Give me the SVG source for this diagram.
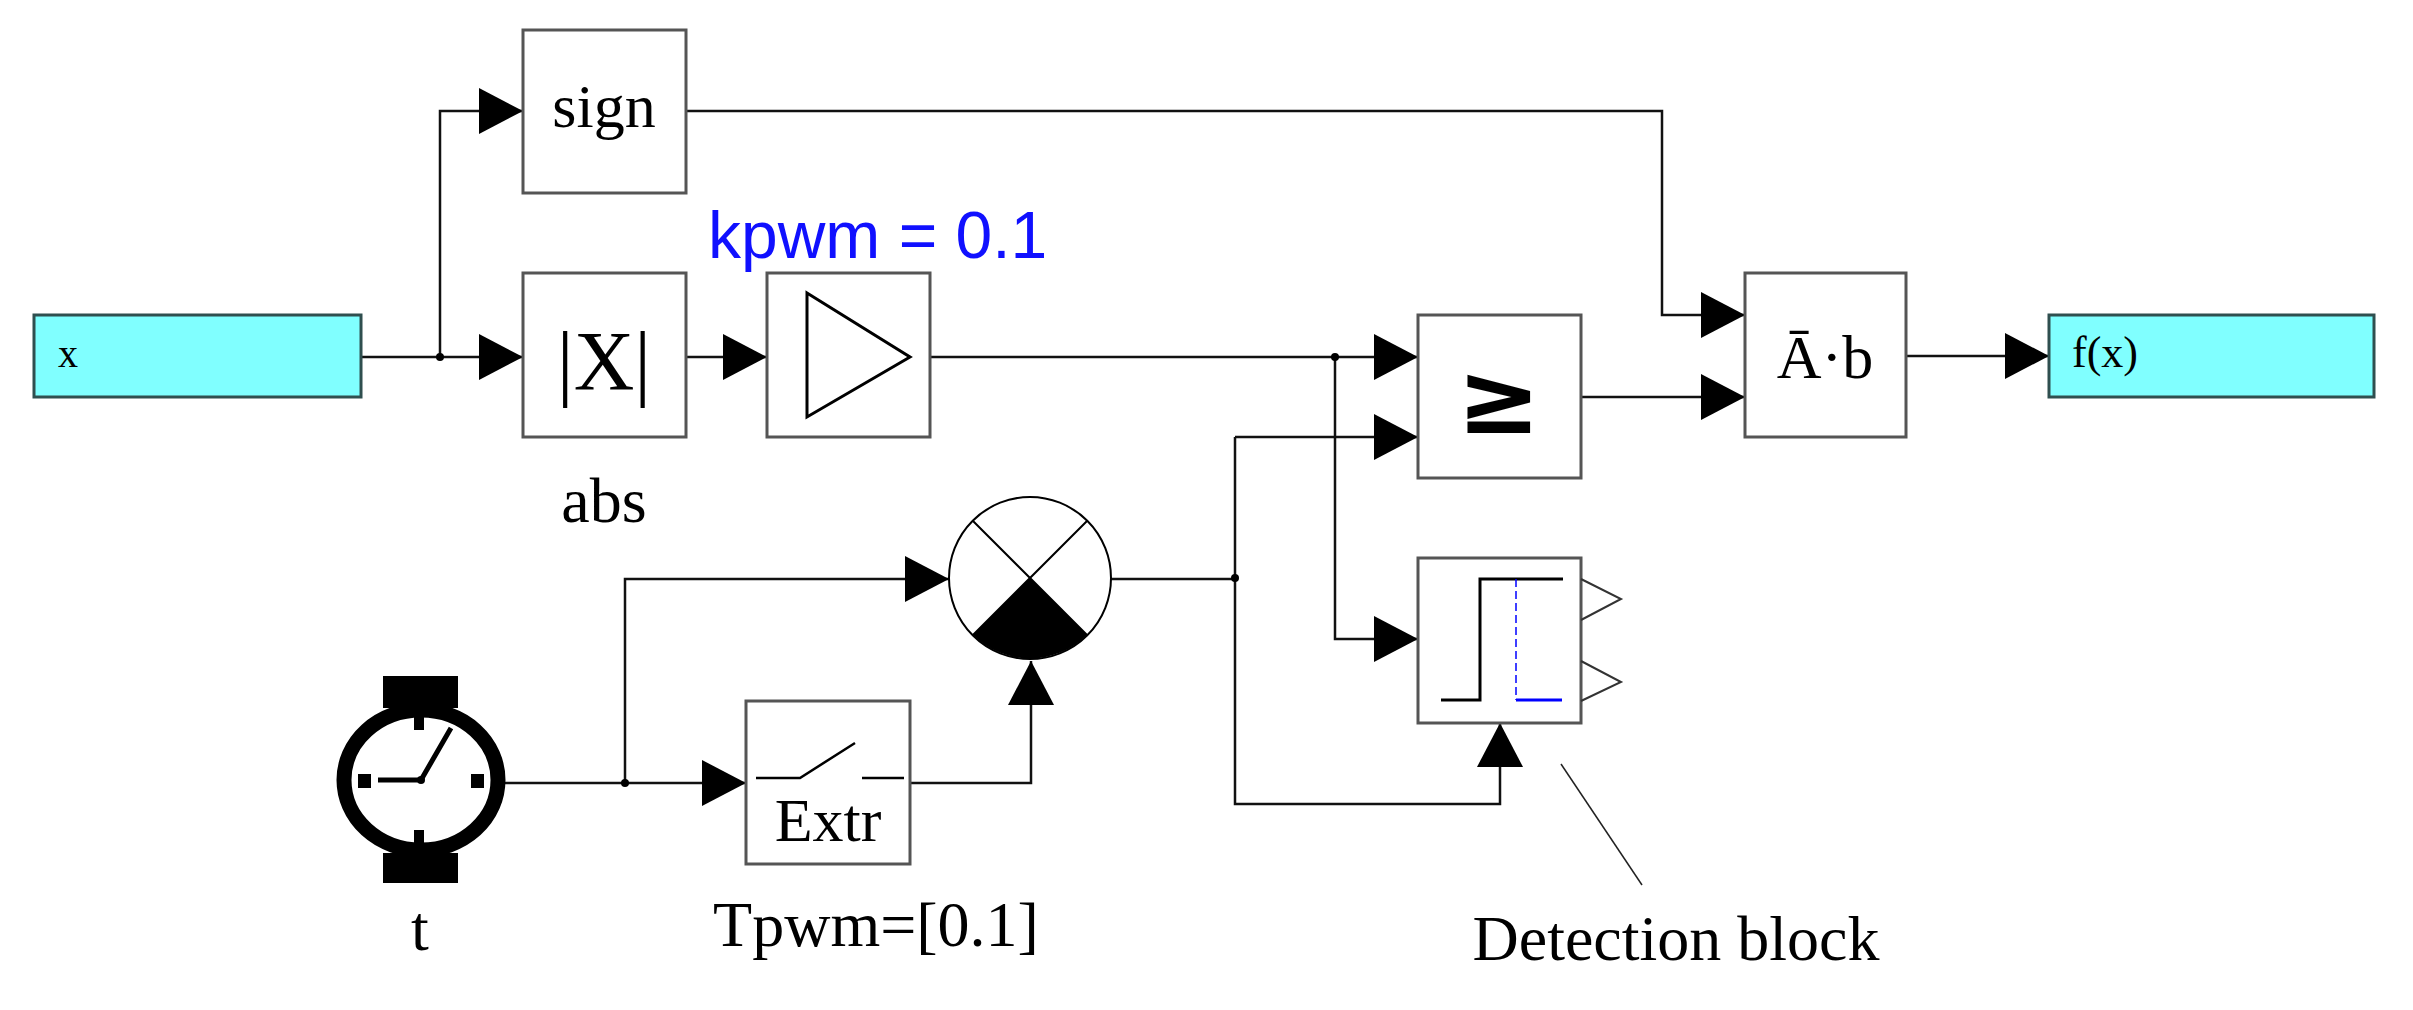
<svg xmlns="http://www.w3.org/2000/svg" width="2413" height="1010" viewBox="0 0 2413 1010">
<style>
.blk{fill:#fff;stroke:#555;stroke-width:3}
.io{fill:#80ffff;stroke:#2f4f4f;stroke-width:3}
.w{fill:none;stroke:#111;stroke-width:2.5}
.s{font-family:"Liberation Serif",serif;fill:#000}
.ss{font-family:"Liberation Sans",sans-serif}
</style>
<defs>
<marker id="a" markerUnits="userSpaceOnUse" markerWidth="44" markerHeight="46" refX="44" refY="23" orient="auto"><path d="M0,0 L44,23 L0,46 Z" fill="#000"/></marker>
</defs>
<g id="connectors">
<path class="w" d="M361,357 H523" marker-end="url(#a)"/>
<path class="w" d="M440,357 V111 H523" marker-end="url(#a)"/>
<path class="w" d="M686,357 H767" marker-end="url(#a)"/>
<path class="w" d="M930,357 H1418" marker-end="url(#a)"/>
<path class="w" d="M1335,357 V639 H1418" marker-end="url(#a)"/>
<path class="w" d="M686,111 H1662 V315 H1745" marker-end="url(#a)"/>
<path class="w" d="M1581,397 H1745" marker-end="url(#a)"/>
<path class="w" d="M1906,356 H2049" marker-end="url(#a)"/>
<path class="w" d="M505,783 H746" marker-end="url(#a)"/>
<path class="w" d="M625,783 V579 H949" marker-end="url(#a)"/>
<path class="w" d="M910,783 H1031 V661" marker-end="url(#a)"/>
<path class="w" d="M1111,579 H1235"/>
<path class="w" d="M1235,437 H1418" marker-end="url(#a)"/>
<path class="w" d="M1235,437 V804 H1500 V723" marker-end="url(#a)"/>
<circle cx="440" cy="357" r="4"/><circle cx="1335" cy="357" r="4"/><circle cx="625" cy="783" r="4"/><circle cx="1235" cy="578" r="4"/>
<path d="M1561,764 L1642,885" stroke="#222" stroke-width="1.5"/>
</g>
<g id="x"><rect class="io" x="34" y="315" width="327" height="82"/><text class="s" x="58" y="367" font-size="40">x</text></g>
<g id="fx"><rect class="io" x="2049" y="315" width="325" height="82"/><text class="s" x="2072" y="367" font-size="44">f(x)</text></g>
<g id="sign"><rect class="blk" x="523" y="30" width="163" height="163"/><text class="s" x="604" y="127" font-size="62" text-anchor="middle">sign</text></g>
<g id="abs"><rect class="blk" x="523" y="273" width="163" height="164"/><text class="s" x="604" y="390" font-size="84" text-anchor="middle">|X|</text><text class="s" x="604" y="522" font-size="64" text-anchor="middle">abs</text></g>
<g id="gain"><rect class="blk" x="767" y="273" width="163" height="164"/><path d="M807,293 L910,357 L807,417 Z" fill="none" stroke="#000" stroke-width="3"/><text class="ss" x="708" y="258" font-size="66" fill="#1010ff">kpwm = 0.1</text></g>
<g id="ge"><rect class="blk" x="1418" y="315" width="163" height="163"/><text x="1499" y="433" font-size="100" font-weight="bold" font-family="DejaVu Sans,sans-serif" text-anchor="middle">≥</text></g>
<g id="ab"><rect class="blk" x="1745" y="273" width="161" height="164"/><text class="s" x="1825" y="378" font-size="62" text-anchor="middle">Ā·b</text></g>
<g id="mult"><circle cx="1030" cy="578" r="81" fill="#fff" stroke="#000" stroke-width="2"/><path d="M973,521 L1087,635 M1087,521 L973,635" stroke="#000" stroke-width="2"/><path d="M1030,578 L973,635 A81,81 0 0,0 1087,635 Z" fill="#000"/></g>
<g id="extr"><rect class="blk" x="746" y="701" width="164" height="163"/><path d="M756,778 H800 L855,743 M862,778 H904" stroke="#000" stroke-width="2.5" fill="none"/><text class="s" x="828" y="841" font-size="62" text-anchor="middle">Extr</text><text class="s" x="876" y="946" font-size="64" text-anchor="middle">Tpwm=[0.1]</text></g>
<g id="clock"><rect x="383" y="676" width="75" height="32" fill="#000"/><rect x="383" y="853" width="75" height="30" fill="#000"/><ellipse cx="421" cy="780" rx="77" ry="70" fill="#fff" stroke="#000" stroke-width="15"/><rect x="414" y="716" width="10" height="14"/><rect x="414" y="830" width="10" height="14"/><rect x="358" y="774" width="13" height="14"/><rect x="471" y="774" width="13" height="14"/><path d="M378,780 H421 L451,728" stroke="#000" stroke-width="5" fill="none"/><circle cx="421" cy="780" r="4"/><text class="s" x="420" y="950" font-size="64" text-anchor="middle">t</text></g>
<g id="detect"><rect class="blk" x="1418" y="558" width="163" height="165"/><path d="M1441,700 H1480 V579 H1563" stroke="#000" stroke-width="3" fill="none"/><path d="M1516,579 V700" stroke="#0000ff" stroke-width="1.5" stroke-dasharray="8,4" fill="none"/><path d="M1516,700 H1562" stroke="#0000ff" stroke-width="3"/><path d="M1581,579 L1621,599 L1581,620 M1581,661 L1621,682 L1581,701" stroke="#333" stroke-width="2" fill="none"/><text class="s" x="1676" y="960" font-size="64" text-anchor="middle">Detection block</text></g>
</svg>
